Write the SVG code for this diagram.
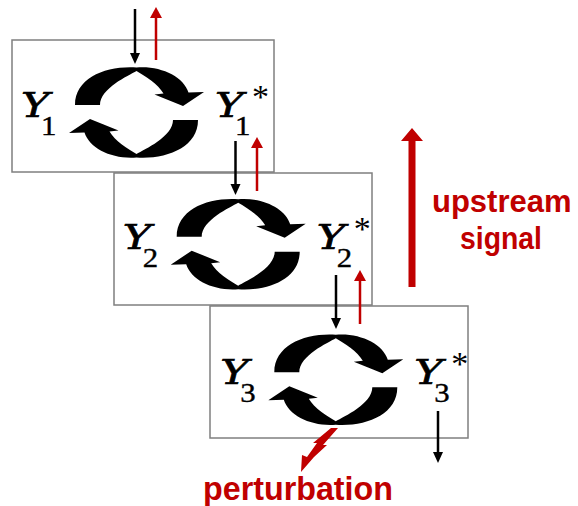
<svg xmlns="http://www.w3.org/2000/svg" width="578" height="506" viewBox="0 0 578 506">
  <style>
    .box { fill: #ffffff; stroke: #7f7f7f; stroke-width: 1.5; }
    .var { font-family: "DejaVu Serif", "Liberation Serif", serif; font-style: italic; font-size: 33px; fill: #000000; stroke: #000000; stroke-width: 0.7; }
    .sub { font-family: "Liberation Serif", "DejaVu Serif", serif; font-size: 28px; fill: #000000; stroke: #000000; stroke-width: 0.4; }
    .star { font-family: "Liberation Serif", "DejaVu Serif", serif; font-size: 34px; fill: #000000; }
    .note { font-family: "Liberation Sans", Arial, sans-serif; font-weight: bold; fill: #c00000; }
    .blk { stroke: #000000; stroke-width: 2.5; fill: none; }
    .red { stroke: #c00000; stroke-width: 2.5; fill: none; }
  </style>
  <defs>
    <marker id="headBlack" viewBox="0 0 12 12" markerWidth="12" markerHeight="12" refX="3" refY="6" orient="auto" markerUnits="userSpaceOnUse">
      <path d="M0,1 L11,6 L0,11 Z" fill="#000000"/>
    </marker>
    <marker id="headRed" viewBox="0 0 12 13" markerWidth="12" markerHeight="13" refX="3" refY="6.5" orient="auto" markerUnits="userSpaceOnUse">
      <path d="M0,0.5 L11,6.5 L0,12.5 Z" fill="#c00000"/>
    </marker>
    <!-- pair of curved arrows forming the activation/deactivation cycle -->
    <g id="cycle">
      <path id="arc" d="M -61.5,-7.5 C -61.5,-35 -30,-47 0,-45 C 24,-47 47,-36 52,-20 L 67.5,-20.5 L 46.5,-6.5 L 18,-18 L 27,-19 C 22,-28 8,-37 0,-41.5 C -8,-37 -36.5,-24 -36.5,-7.5 Z" fill="#000000"/>
      <use href="#arc" transform="rotate(180)"/>
    </g>
    <!-- state labels Y_i and Y_i* -->
    <g id="labels">
      <text class="var" transform="translate(21,117) scale(1.3,1)">Y</text>
      <text class="var" transform="translate(215,117) scale(1.3,1)">Y</text>
      <text class="star" x="252" y="108">*</text>
    </g>
  </defs>

  <!-- module 1 -->
  <g id="node1">
    <rect class="box" x="12" y="40" width="262" height="132"/>
    <g>
      <use href="#cycle" transform="translate(136.5,112.5)"/>
      <use href="#labels"/>
      <text class="sub" transform="translate(41,135) scale(1.1,1)">1</text>
      <text class="sub" transform="translate(235,135) scale(1.1,1)">1</text>
    </g>
  </g>

  <!-- module 2 -->
  <g id="node2">
    <rect class="box" x="114" y="173" width="258" height="132"/>
    <g transform="translate(101.7,131.7)">
      <use href="#cycle" transform="translate(136.5,112.5)"/>
      <use href="#labels"/>
      <text class="sub" transform="translate(41,135) scale(1.1,1)">2</text>
      <text class="sub" transform="translate(235,135) scale(1.1,1)">2</text>
    </g>
  </g>

  <!-- module 3 -->
  <g id="node3">
    <rect class="box" x="210" y="306" width="258" height="132"/>
    <g transform="translate(199.3,267.3)">
      <use href="#cycle" transform="translate(136.5,112.5)"/>
      <use href="#labels"/>
      <text class="sub" transform="translate(41,135) scale(1.1,1)">3</text>
      <text class="sub" transform="translate(235,135) scale(1.1,1)">3</text>
    </g>
  </g>

  <!-- upstream signal label -->
  <g id="upstream">
    <polygon points="408.5,287 415.5,287 415.5,141 423,141 412,128 401,141 408.5,141" fill="#c00000"/>
    <text class="note" font-size="31" x="432" y="212">upstream</text>
    <text class="note" font-size="31" x="460" y="249" textLength="82" lengthAdjust="spacingAndGlyphs">signal</text>
  </g>

  <!-- perturbation label -->
  <g id="perturbation">
    <polygon points="331,428 338,428 323,445 327,445 314,457 301,472 302,455 307,457 317,443 313,443" fill="#c00000"/>
    <text class="note" font-size="33" x="203" y="500" textLength="190" lengthAdjust="spacingAndGlyphs">perturbation</text>
  </g>

  <!-- signal arrows between modules -->
  <g id="connectors">
    <line class="blk" x1="135" y1="9" x2="135" y2="56" marker-end="url(#headBlack)"/>
    <line class="red" x1="156" y1="60" x2="156" y2="15" marker-end="url(#headRed)"/>
    <line class="blk" x1="235.5" y1="141" x2="235.5" y2="187" marker-end="url(#headBlack)"/>
    <line class="red" x1="257" y1="191" x2="257" y2="145" marker-end="url(#headRed)"/>
    <line class="blk" x1="336" y1="275" x2="336" y2="321" marker-end="url(#headBlack)"/>
    <line class="red" x1="360" y1="324" x2="360" y2="278" marker-end="url(#headRed)"/>
    <line class="blk" x1="438" y1="411" x2="438" y2="455" marker-end="url(#headBlack)"/>
  </g>
</svg>
